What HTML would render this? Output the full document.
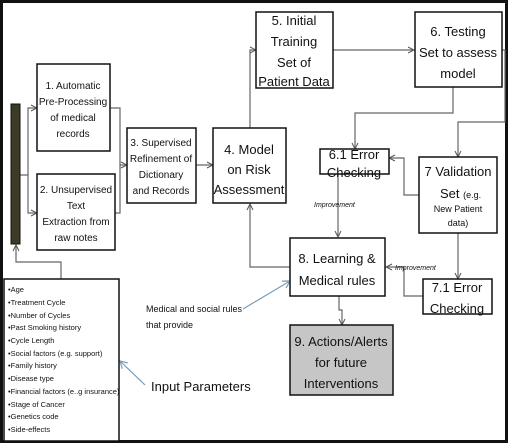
<!DOCTYPE html>
<html><head><meta charset="utf-8"><style>
html,body{margin:0;padding:0;background:#fff}
svg{display:block}
text{font-family:"Liberation Sans Narrow","Liberation Sans",sans-serif;fill:#111}
</style></head><body>
<svg width="508" height="443" viewBox="0 0 508 443" xmlns="http://www.w3.org/2000/svg">
<defs>
<marker id="a" markerWidth="8" markerHeight="8" refX="7" refY="4" orient="auto" markerUnits="userSpaceOnUse"><path d="M1,1 L7,4 L1,7" fill="none" stroke="#555" stroke-width="1"/></marker>
<marker id="b" markerWidth="10" markerHeight="10" refX="8" refY="5" orient="auto" markerUnits="userSpaceOnUse"><path d="M1,1 L8,5 L1,9" fill="none" stroke="#7a9cb8" stroke-width="1.2"/></marker>
</defs>
<rect x="1.5" y="1.5" width="505" height="440" fill="#fff" stroke="#111" stroke-width="3"/>
<g fill="none" stroke="#666" stroke-width="1.2">
<path d="M20,175 H28 V108 H37" marker-end="url(#a)"/>
<path d="M28,175 V213 H37" marker-end="url(#a)"/>
<path d="M110,108 H120 V165 H127" marker-end="url(#a)"/>
<path d="M115,213 H120 V165"/>
<path d="M196,165 H213" marker-end="url(#a)"/>
<path d="M250,128 V50 H256" marker-end="url(#a)"/>
<path d="M333,50 H414" marker-end="url(#a)"/>
<path d="M453,87 V113 H355 V149" marker-end="url(#a)"/>
<path d="M502,50 H505 V122 H458 V157" marker-end="url(#a)"/>
<path d="M419,195 H404 V158 H389" marker-end="url(#a)"/>
<path d="M338,174 V237" marker-end="url(#a)"/>
<path d="M458,233 V279" marker-end="url(#a)"/>
<path d="M423,296 H404 V267 H386" marker-end="url(#a)"/>
<path d="M290,267 H250 V204" marker-end="url(#a)"/>
<path d="M339,296 V310 H342 V325" marker-end="url(#a)"/>
<path d="M61,279 V262 H16 V245" marker-end="url(#a)"/>
</g>
<g fill="none" stroke="#7a9cb8" stroke-width="1.2">
<path d="M243,309 L290,281" marker-end="url(#b)"/>
<path d="M145,385 L120,361" marker-end="url(#b)"/>
</g>
<rect x="11" y="104" width="9" height="140" fill="#3d3a27" stroke="#111"/>
<g fill="#fff" stroke="#111" stroke-width="1.5">
<rect x="37" y="64" width="73" height="87"/>
<rect x="37" y="174" width="78" height="76"/>
<rect x="127" y="128" width="69" height="75"/>
<rect x="213" y="128" width="73" height="75"/>
<rect x="256" y="12" width="77" height="76"/>
<rect x="415" y="12" width="87" height="75"/>
<rect x="320" y="149" width="69" height="25"/>
<rect x="419" y="157" width="78" height="76"/>
<rect x="290" y="238" width="95" height="58"/>
<rect x="423" y="279" width="69" height="35"/>
<rect x="290" y="325" width="103" height="70" fill="#c6c6c6"/>
<rect x="4" y="279" width="115" height="162"/>
</g>
<g text-anchor="middle" font-size="10">
<text x="73" y="89">1. Automatic</text><text x="73" y="105">Pre-Processing</text><text x="73" y="121">of medical</text><text x="73" y="137">records</text>
<text x="76" y="193">2. Unsupervised</text><text x="76" y="209">Text</text><text x="76" y="225">Extraction from</text><text x="76" y="241">raw notes</text>
<text x="161" y="146">3. Supervised</text><text x="161" y="162">Refinement of</text><text x="161" y="178">Dictionary</text><text x="161" y="194">and Records</text>
</g>
<g text-anchor="middle" font-size="13">
<text x="249" y="154">4. Model</text><text x="249" y="174">on Risk</text><text x="249" y="194">Assessment</text>
<text x="294" y="25">5. Initial</text><text x="294" y="46">Training</text><text x="294" y="67">Set of</text><text x="294" y="86">Patient Data</text>
<text x="458" y="36">6. Testing</text><text x="458" y="57">Set to assess</text><text x="458" y="78">model</text>
<text x="354" y="159">6.1 Error</text><text x="354" y="177">Checking</text>
<text x="458" y="176">7 Validation</text>
<text x="337" y="263">8. Learning &amp;</text><text x="337" y="285">Medical rules</text>
<text x="457" y="292">7.1 Error</text><text x="457" y="313">Checking</text>
<text x="341" y="346">9. Actions/Alerts</text><text x="341" y="367">for future</text><text x="341" y="388">Interventions</text>
</g>
<text x="440" y="198" font-size="13">Set <tspan font-size="9">(e.g.</tspan></text>
<g text-anchor="middle" font-size="9"><text x="458" y="212">New Patient</text><text x="458" y="226">data)</text></g>
<g font-size="7" font-style="italic"><text x="314" y="207">Improvement</text><text x="395" y="270">Improvement</text></g>
<g font-size="9"><text x="146" y="312">Medical and social rules</text><text x="146" y="328">that provide</text></g>
<text x="151" y="391" font-size="13">Input Parameters</text>
<g font-size="7.5">
<text x="8" y="292">•Age</text><text x="8" y="305">•Treatment Cycle</text><text x="8" y="318">•Number of Cycles</text><text x="8" y="330">•Past Smoking history</text><text x="8" y="343">•Cycle Length</text><text x="8" y="356">•Social factors (e.g. support)</text><text x="8" y="368">•Family history</text><text x="8" y="381">•Disease type</text><text x="8" y="394">•Financial factors (e..g insurance)</text><text x="8" y="407">•Stage of Cancer</text><text x="8" y="419">•Genetics code</text><text x="8" y="432">•Side-effects</text>
</g>
</svg>
</body></html>
